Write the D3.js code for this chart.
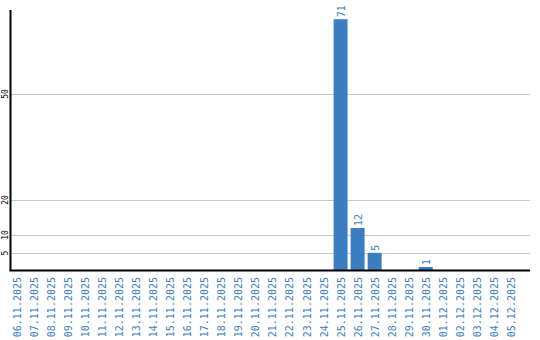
<!DOCTYPE html>
<html><head><meta charset="utf-8">
<script src="https://cdn.jsdelivr.net/npm/d3@7"></script>
<style>body{margin:0;background:#fff}svg{display:block}</style>
</head><body><svg id="c" width="540" height="340"></svg>
<script>
const dates = ["06.11.2025","07.11.2025","08.11.2025","09.11.2025","10.11.2025","11.11.2025","12.11.2025","13.11.2025","14.11.2025","15.11.2025","16.11.2025","17.11.2025","18.11.2025","19.11.2025","20.11.2025","21.11.2025","22.11.2025","23.11.2025","24.11.2025","25.11.2025","26.11.2025","27.11.2025","28.11.2025","29.11.2025","30.11.2025","01.12.2025","02.12.2025","03.12.2025","04.12.2025","05.12.2025"];
const values = [0,0,0,0,0,0,0,0,0,0,0,0,0,0,0,0,0,0,0,71,12,5,0,0,1,0,0,0,0,0];
const yTicks = [5,10,20,50];

const svg = d3.select("#c");
const x0 = 10.5, x1 = 530, yB = 270.5, yT = 10;
const x = d3.scaleBand().domain(dates).range([8.5, 519.4]).paddingInner(0.18).paddingOuter(0.09);
const y = d3.scaleLinear().domain([0, 73.6]).range([yB, yT]);
const blue = "#3b7ec4";

// gridlines
svg.append("g").selectAll("line").data(yTicks).join("line")
  .attr("x1", x0).attr("x2", x1)
  .attr("y1", d => Math.round(y(d)) + 0.5).attr("y2", d => Math.round(y(d)) + 0.5)
  .attr("stroke", "#c8c8c8").attr("stroke-width", 1);

// y tick labels
svg.append("g").selectAll("text").data(yTicks).join("text")
  .attr("transform", d => `translate(8,${Math.round(y(d))}) rotate(-90)`)
  .attr("text-anchor", "middle")
  .attr("font-family", "DejaVu Sans Mono, monospace").attr("font-size", 8)
  .attr("fill", "#000").text(d => d);

// bars
const nz = dates.map((d, i) => ({d, v: values[i]})).filter(o => o.v > 0);
svg.append("g").selectAll("rect").data(nz).join("rect")
  .attr("x", o => x(o.d)).attr("width", x.bandwidth())
  .attr("y", o => y(o.v)).attr("height", o => yB - y(o.v))
  .attr("fill", blue);

// value labels
svg.append("g").selectAll("text").data(nz).join("text")
  .attr("transform", o => `translate(${x(o.d) + x.bandwidth()/2 + 4},${y(o.v) - 2}) rotate(-90)`)
  .attr("text-anchor", "start")
  .attr("font-family", "DejaVu Sans Mono, monospace").attr("font-size", 10)
  .attr("fill", blue).text(o => o.v);

// axes lines
svg.append("line").attr("x1", x0).attr("x2", x0).attr("y1", yT).attr("y2", yB)
  .attr("stroke", "#000").attr("stroke-width", 2);
svg.append("line").attr("x1", x0 - 1).attr("x2", x1).attr("y1", yB).attr("y2", yB)
  .attr("stroke", "#000").attr("stroke-width", 2);

// x labels
svg.append("g").selectAll("text").data(dates).join("text")
  .attr("transform", d => `translate(${x(d) + x.bandwidth()/2 + 4},277) rotate(-90)`)
  .attr("text-anchor", "end")
  .attr("font-family", "DejaVu Sans Mono, monospace").attr("font-size", 10)
  .attr("fill", blue).text(d => d);
</script></body></html>
